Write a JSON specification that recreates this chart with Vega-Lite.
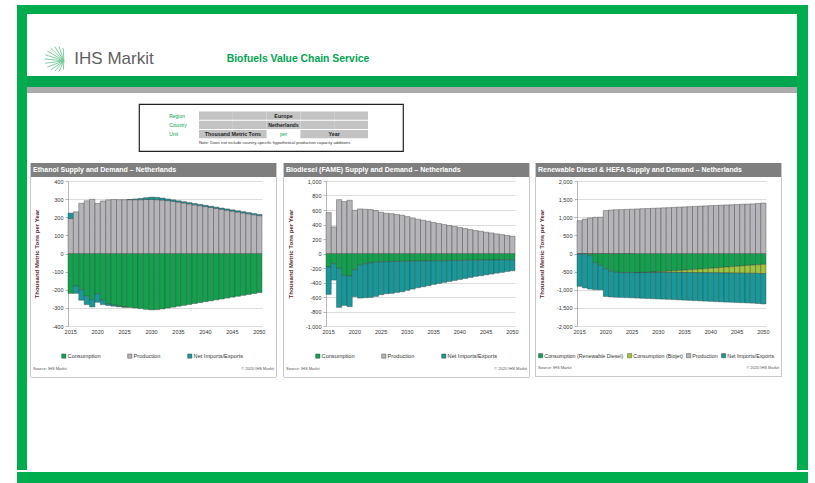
{
"$schema": "https://vega.github.io/schema/vega-lite/v6.json",
"padding": {"left": 17, "top": 5, "right": 0, "bottom": 0},
"background": "white",
"resolve": {"scale": {"color": "independent"}, "legend": {"color": "independent"}},
"config": {
  "font": "Liberation Sans",
  "view": {"stroke": null},
  "concat": {"spacing": 0},
  "point": {"size": 0},
  "axisX": {"domain": false, "ticks": false, "grid": false, "labelAngle": 0, "labelFontSize": 5.5, "labelColor": "#333333", "labelPadding": 3},
  "axisY": {"grid": true, "gridColor": "#c6c6c6", "gridWidth": 0.6, "domainColor": "#8c8c8c", "domainWidth": 0.6, "tickColor": "#8c8c8c", "tickSize": 3, "tickWidth": 0.6, "labelFontSize": 5.5, "labelColor": "#333333", "labelPadding": 2, "titleFontSize": 6, "titleFontWeight": "bold", "titleColor": "#5c1f1f", "titlePadding": 12},
  "legend": {"orient": "none", "legendY": 172, "direction": "horizontal", "symbolType": "square", "symbolSize": 18, "symbolStrokeColor": "#333333", "symbolStrokeWidth": 0.4, "labelFontSize": 5.6, "labelColor": "#333333", "labelOffset": 1, "columnPadding": 25}
},
"vconcat": [
  {"width": 791, "height": 9, "view": {"fill": "#00ad4e"}, "data": {"values": [{}]}, "mark": {"type": "point", "opacity": 0}},
  {"resolve": {"scale": {"color": "independent"}, "legend": {"color": "independent"}},
   "hconcat": [
    {"width": 10, "height": 456, "view": {"fill": "#00ad4e"}, "data": {"values": [{}]}, "mark": {"type": "point", "opacity": 0}},
    {"resolve": {"scale": {"color": "independent"}, "legend": {"color": "independent"}},
     "vconcat": [
      {"width": 770, "height": 30, "data": {"values": [{}]}, "mark": {"type": "point", "opacity": 0}},
      {"hconcat": [
        {"width": 13, "height": 26, "data": {"values": [{}]}, "mark": {"type": "point", "opacity": 0}},
        {"width": 34, "height": 26, "data": {"values": [{}]}, "mark": {"type": "point", "filled": false, "stroke": "#34b36f", "strokeWidth": 0.9, "size": 625, "shape": "M0.55,0.15L0.5,-0.87M0.55,0.15L0.17,-0.98M0.55,0.15L-0.17,-0.98M0.55,0.15L-0.5,-0.87M0.55,0.15L-0.77,-0.64M0.55,0.15L-0.94,-0.34M0.55,0.15L-1,0M0.55,0.15L-0.94,0.34M0.55,0.15L-0.77,0.64M0.55,0.15L-0.5,0.87M0.55,0.15L-0.17,0.98M0.55,0.15L0.17,0.98M0.55,0.15L0.5,0.87"}},
        {"width": 80, "height": 26, "data": {"values": [{"t": "IHS Markit"}]}, "mark": {"type": "text", "fontSize": 17, "color": "#5f6062"}, "encoding": {"text": {"field": "t"}}},
        {"width": 64, "height": 26, "data": {"values": [{}]}, "mark": {"type": "point", "opacity": 0}},
        {"width": 160, "height": 26, "data": {"values": [{"t": "Biofuels Value Chain Service"}]}, "mark": {"type": "text", "fontSize": 10.4, "fontWeight": "bold", "color": "#00a54f"}, "encoding": {"text": {"field": "t"}}}
      ]},
      {"width": 770, "height": 2, "data": {"values": [{}]}, "mark": {"type": "point", "opacity": 0}},
      {"width": 770, "height": 11, "view": {"fill": "#00a54f"}, "data": {"values": [{}]}, "mark": {"type": "point", "opacity": 0}},
      {"width": 770, "height": 6, "view": {"fill": "#ababab"}, "data": {"values": [{}]}, "mark": {"type": "point", "opacity": 0}},
      {"width": 770, "height": 10, "data": {"values": [{}]}, "mark": {"type": "point", "opacity": 0}},
      {"hconcat": [
        {"width": 111, "height": 47, "data": {"values": [{}]}, "mark": {"type": "point", "opacity": 0}},
        {"width": 264, "height": 47, "view": {"stroke": "#222222", "strokeWidth": 1.2},
         "layer": [
          {"data": {"values": [
            {"row": "Region", "col": "A1"}, {"row": "Region", "col": "A2"}, {"row": "Region", "col": "B"}, {"row": "Region", "col": "C1"}, {"row": "Region", "col": "C2"},
            {"row": "Country", "col": "A1"}, {"row": "Country", "col": "A2"}, {"row": "Country", "col": "B"}, {"row": "Country", "col": "C1"}, {"row": "Country", "col": "C2"},
            {"row": "Unit", "col": "A1"}, {"row": "Unit", "col": "A2"}, {"row": "Unit", "col": "C1"}, {"row": "Unit", "col": "C2"}]},
           "mark": {"type": "rect", "color": "#c3c3c3"},
           "encoding": {
             "x": {"field": "col", "type": "nominal", "scale": {"domain": ["L", "A1", "A2", "B", "C1", "C2"], "paddingInner": 0, "paddingOuter": 0.905, "align": 0.428}, "axis": null},
             "y": {"field": "row", "type": "nominal", "scale": {"domain": ["Region", "Country", "Unit", "Note"], "paddingInner": 0.1, "paddingOuter": 0.6, "align": 0.68}, "axis": null}}},
          {"data": {"values": [{"row": "Region", "col": "L", "t": "Region"}, {"row": "Country", "col": "L", "t": "Country"}, {"row": "Unit", "col": "L", "t": "Unit"}]},
           "mark": {"type": "text", "align": "left", "dx": 4, "fontSize": 5, "color": "#00a54f"},
           "encoding": {"x": {"field": "col", "type": "nominal", "bandPosition": 0}, "y": {"field": "row", "type": "nominal"}, "text": {"field": "t"}}},
          {"data": {"values": [{"row": "Region", "col": "B", "t": "Europe"}, {"row": "Country", "col": "B", "t": "Netherlands"}]},
           "mark": {"type": "text", "fontSize": 5.3, "fontWeight": "bold", "color": "#222222"},
           "encoding": {"x": {"field": "col", "type": "nominal"}, "y": {"field": "row", "type": "nominal"}, "text": {"field": "t"}}},
          {"data": {"values": [{"row": "Unit", "col": "B", "t": "per"}]},
           "mark": {"type": "text", "fontSize": 5, "color": "#00a54f"},
           "encoding": {"x": {"field": "col", "type": "nominal"}, "y": {"field": "row", "type": "nominal"}, "text": {"field": "t"}}},
          {"data": {"values": [{"row": "Unit", "col": "A2", "t": "Thousand Metric Tons"}, {"row": "Unit", "col": "C2", "t": "Year"}]},
           "mark": {"type": "text", "fontSize": 5.3, "fontWeight": "bold", "color": "#222222"},
           "encoding": {"x": {"field": "col", "type": "nominal", "bandPosition": 0}, "y": {"field": "row", "type": "nominal"}, "text": {"field": "t"}}},
          {"data": {"values": [{"row": "Note", "col": "A1", "t": "Note: Does not include country-specific hypothetical production capacity additions"}]},
           "mark": {"type": "text", "align": "left", "fontSize": 4.2, "color": "#333333"},
           "encoding": {"x": {"field": "col", "type": "nominal", "bandPosition": 0}, "y": {"field": "row", "type": "nominal"}, "text": {"field": "t"}}}
         ]}
      ]},
      {"width": 770, "height": 11, "data": {"values": [{}]}, "mark": {"type": "point", "opacity": 0}},
      {"resolve": {"scale": {"color": "independent"}, "legend": {"color": "independent"}},
       "hconcat": [
        {"width": 3, "height": 10, "data": {"values": [{}]}, "mark": {"type": "point", "opacity": 0}},
        {"resolve": {"scale": {"color": "independent"}, "legend": {"color": "independent"}},
         "hconcat": [
          {"width": 1, "height": 214, "view": {"fill": "#c9c9c9"}, "data": {"values": [{}]}, "mark": {"type": "point", "opacity": 0}},
          {"resolve": {"scale": {"color": "independent"}, "legend": {"color": "independent"}},
           "vconcat": [
            {"width": 245, "height": 14, "view": {"fill": "#7f7f7f"}, "data": {"values": [{"t": "Ethanol Supply and Demand – Netherlands"}]},
             "mark": {"type": "text", "align": "left", "dx": 2, "color": "white", "fontWeight": "bold", "fontSize": 7},
             "encoding": {"text": {"field": "t"}, "x": {"datum": 0, "type": "quantitative", "scale": {"domain": [0, 1]}, "axis": null}}},
            {"width": 245, "height": 2, "data": {"values": [{}]}, "mark": {"type": "point", "opacity": 0}},
            {"resolve": {"scale": {"color": "independent"}, "legend": {"color": "independent"}},
             "hconcat": [
              {"width": 2, "height": 10, "data": {"values": [{}]}, "mark": {"type": "point", "opacity": 0}},
              {"width": 194, "height": 145,
               "data": {"values": [
                {"year": 2015, "Consumption": -220, "Production": 193, "Net Imports/Exports": 30},
                {"year": 2016, "Consumption": -180, "Production": 230, "Net Imports/Exports": -40},
                {"year": 2017, "Consumption": -200, "Production": 277, "Net Imports/Exports": -58},
                {"year": 2018, "Consumption": -236, "Production": 291, "Net Imports/Exports": -46},
                {"year": 2019, "Consumption": -255, "Production": 299, "Net Imports/Exports": -40},
                {"year": 2020, "Consumption": -222, "Production": 276, "Net Imports/Exports": -47},
                {"year": 2021, "Consumption": -258, "Production": 290, "Net Imports/Exports": -24},
                {"year": 2022, "Consumption": -278, "Production": 296, "Net Imports/Exports": -9},
                {"year": 2023, "Consumption": -285, "Production": 298, "Net Imports/Exports": -6},
                {"year": 2024, "Consumption": -291, "Production": 297, "Net Imports/Exports": -3},
                {"year": 2025, "Consumption": -295, "Production": 297, "Net Imports/Exports": -1},
                {"year": 2026, "Consumption": -298, "Production": 297, "Net Imports/Exports": 1},
                {"year": 2027, "Consumption": -301, "Production": 297, "Net Imports/Exports": 4},
                {"year": 2028, "Consumption": -304, "Production": 297, "Net Imports/Exports": 7},
                {"year": 2029, "Consumption": -308, "Production": 298, "Net Imports/Exports": 10},
                {"year": 2030, "Consumption": -311, "Production": 298, "Net Imports/Exports": 13},
                {"year": 2031, "Consumption": -310, "Production": 297, "Net Imports/Exports": 13},
                {"year": 2032, "Consumption": -306, "Production": 295, "Net Imports/Exports": 11},
                {"year": 2033, "Consumption": -301, "Production": 292, "Net Imports/Exports": 9},
                {"year": 2034, "Consumption": -296, "Production": 288, "Net Imports/Exports": 8},
                {"year": 2035, "Consumption": -291, "Production": 284, "Net Imports/Exports": 7},
                {"year": 2036, "Consumption": -286, "Production": 279, "Net Imports/Exports": 7},
                {"year": 2037, "Consumption": -281, "Production": 274, "Net Imports/Exports": 7},
                {"year": 2038, "Consumption": -276, "Production": 269, "Net Imports/Exports": 7},
                {"year": 2039, "Consumption": -271, "Production": 264, "Net Imports/Exports": 7},
                {"year": 2040, "Consumption": -266, "Production": 259, "Net Imports/Exports": 7},
                {"year": 2041, "Consumption": -261, "Production": 254, "Net Imports/Exports": 7},
                {"year": 2042, "Consumption": -256, "Production": 249, "Net Imports/Exports": 7},
                {"year": 2043, "Consumption": -251, "Production": 244, "Net Imports/Exports": 7},
                {"year": 2044, "Consumption": -246, "Production": 239, "Net Imports/Exports": 7},
                {"year": 2045, "Consumption": -241, "Production": 234, "Net Imports/Exports": 7},
                {"year": 2046, "Consumption": -236, "Production": 229, "Net Imports/Exports": 7},
                {"year": 2047, "Consumption": -231, "Production": 224, "Net Imports/Exports": 7},
                {"year": 2048, "Consumption": -226, "Production": 219, "Net Imports/Exports": 7},
                {"year": 2049, "Consumption": -221, "Production": 214, "Net Imports/Exports": 7},
                {"year": 2050, "Consumption": -216, "Production": 209, "Net Imports/Exports": 7}
               ]},
               "transform": [
                 {"fold": ["Consumption", "Production", "Net Imports/Exports"], "as": ["series", "value"]},
                 {"calculate": "indexof(['Consumption','Production','Net Imports/Exports'], datum.series)", "as": "ord"}
               ],
               "mark": {"type": "bar", "stroke": "#3d3d3d", "strokeWidth": 0.4},
               "encoding": {
                 "x": {"field": "year", "type": "ordinal", "scale": {"paddingInner": 0, "paddingOuter": 0}, "axis": {"values": [2015, 2020, 2025, 2030, 2035, 2040, 2045, 2050], "title": null}},
                 "y": {"field": "value", "type": "quantitative", "stack": "zero", "scale": {"domain": [-400, 400], "nice": false}, "axis": {"values": [-400, -300, -200, -100, 0, 100, 200, 300, 400], "labelExpr": "replace(datum.label, '−', '-')", "title": "Thousand Metric Tons per Year"}},
                 "color": {"field": "series", "type": "nominal", "scale": {"domain": ["Consumption", "Production", "Net Imports/Exports"], "range": ["#12a24e", "#b5b5b9", "#17999b"]}, "legend": {"title": null, "legendX": -7}},
                 "order": {"field": "ord", "type": "quantitative"}
               }}
            ]},
            {"width": 245, "height": 17,
             "layer": [
              {"data": {"values": [{"t": "Source: IHS Markit"}]}, "mark": {"type": "text", "align": "left", "dx": 2, "fontSize": 4, "color": "#555555"},
               "encoding": {"text": {"field": "t"}, "x": {"datum": 0, "type": "quantitative", "scale": {"domain": [0, 1]}, "axis": null}}},
              {"data": {"values": [{"t": "© 2020 IHS Markit"}]}, "mark": {"type": "text", "align": "right", "dx": -2, "fontSize": 4, "color": "#555555"},
               "encoding": {"text": {"field": "t"}, "x": {"datum": 1, "type": "quantitative"}}}
             ]},
            {"width": 245, "height": 1, "view": {"fill": "#c9c9c9"}, "data": {"values": [{}]}, "mark": {"type": "point", "opacity": 0}}
          ]},
          {"width": 1, "height": 214, "view": {"fill": "#c9c9c9"}, "data": {"values": [{}]}, "mark": {"type": "point", "opacity": 0}}
        ]},
        {"width": 6, "height": 10, "data": {"values": [{}]}, "mark": {"type": "point", "opacity": 0}},
        {"resolve": {"scale": {"color": "independent"}, "legend": {"color": "independent"}},
         "hconcat": [
          {"width": 1, "height": 214, "view": {"fill": "#c9c9c9"}, "data": {"values": [{}]}, "mark": {"type": "point", "opacity": 0}},
          {"resolve": {"scale": {"color": "independent"}, "legend": {"color": "independent"}},
           "vconcat": [
            {"width": 245, "height": 14, "view": {"fill": "#7f7f7f"}, "data": {"values": [{"t": "Biodiesel (FAME) Supply and Demand – Netherlands"}]},
             "mark": {"type": "text", "align": "left", "dx": 2, "color": "white", "fontWeight": "bold", "fontSize": 7},
             "encoding": {"text": {"field": "t"}, "x": {"datum": 0, "type": "quantitative", "scale": {"domain": [0, 1]}, "axis": null}}},
            {"width": 245, "height": 2, "data": {"values": [{}]}, "mark": {"type": "point", "opacity": 0}},
            {"resolve": {"scale": {"color": "independent"}, "legend": {"color": "independent"}},
             "hconcat": [
              {"width": 3, "height": 10, "data": {"values": [{}]}, "mark": {"type": "point", "opacity": 0}},
              {"width": 189, "height": 145,
               "data": {"values": [
                {"year": 2015, "Consumption": -186, "Production": 564, "Net Imports/Exports": -378},
                {"year": 2016, "Consumption": -140, "Production": 367, "Net Imports/Exports": -227},
                {"year": 2017, "Consumption": -205, "Production": 743, "Net Imports/Exports": -538},
                {"year": 2018, "Consumption": -302, "Production": 716, "Net Imports/Exports": -414},
                {"year": 2019, "Consumption": -312, "Production": 734, "Net Imports/Exports": -422},
                {"year": 2020, "Consumption": -223, "Production": 596, "Net Imports/Exports": -373},
                {"year": 2021, "Consumption": -163, "Production": 615, "Net Imports/Exports": -452},
                {"year": 2022, "Consumption": -140, "Production": 610, "Net Imports/Exports": -470},
                {"year": 2023, "Consumption": -130, "Production": 606, "Net Imports/Exports": -476},
                {"year": 2024, "Consumption": -122, "Production": 592, "Net Imports/Exports": -470},
                {"year": 2025, "Consumption": -115, "Production": 569, "Net Imports/Exports": -454},
                {"year": 2026, "Consumption": -113, "Production": 555, "Net Imports/Exports": -442},
                {"year": 2027, "Consumption": -111, "Production": 550, "Net Imports/Exports": -439},
                {"year": 2028, "Consumption": -110, "Production": 537, "Net Imports/Exports": -427},
                {"year": 2029, "Consumption": -108, "Production": 528, "Net Imports/Exports": -420},
                {"year": 2030, "Consumption": -107, "Production": 509, "Net Imports/Exports": -402},
                {"year": 2031, "Consumption": -106, "Production": 491, "Net Imports/Exports": -385},
                {"year": 2032, "Consumption": -104, "Production": 472, "Net Imports/Exports": -368},
                {"year": 2033, "Consumption": -103, "Production": 459, "Net Imports/Exports": -356},
                {"year": 2034, "Consumption": -102, "Production": 445, "Net Imports/Exports": -343},
                {"year": 2035, "Consumption": -101, "Production": 427, "Net Imports/Exports": -326},
                {"year": 2036, "Consumption": -100, "Production": 413, "Net Imports/Exports": -313},
                {"year": 2037, "Consumption": -99, "Production": 399, "Net Imports/Exports": -300},
                {"year": 2038, "Consumption": -98, "Production": 385, "Net Imports/Exports": -287},
                {"year": 2039, "Consumption": -97, "Production": 372, "Net Imports/Exports": -275},
                {"year": 2040, "Consumption": -96, "Production": 358, "Net Imports/Exports": -262},
                {"year": 2041, "Consumption": -95, "Production": 344, "Net Imports/Exports": -249},
                {"year": 2042, "Consumption": -94, "Production": 330, "Net Imports/Exports": -236},
                {"year": 2043, "Consumption": -93, "Production": 316, "Net Imports/Exports": -223},
                {"year": 2044, "Consumption": -92, "Production": 307, "Net Imports/Exports": -215},
                {"year": 2045, "Consumption": -91, "Production": 294, "Net Imports/Exports": -203},
                {"year": 2046, "Consumption": -90, "Production": 284, "Net Imports/Exports": -194},
                {"year": 2047, "Consumption": -89, "Production": 271, "Net Imports/Exports": -182},
                {"year": 2048, "Consumption": -88, "Production": 261, "Net Imports/Exports": -173},
                {"year": 2049, "Consumption": -87, "Production": 248, "Net Imports/Exports": -161},
                {"year": 2050, "Consumption": -86, "Production": 239, "Net Imports/Exports": -153}
               ]},
               "transform": [
                 {"fold": ["Consumption", "Production", "Net Imports/Exports"], "as": ["series", "value"]},
                 {"calculate": "indexof(['Consumption','Production','Net Imports/Exports'], datum.series)", "as": "ord"}
               ],
               "mark": {"type": "bar", "stroke": "#3d3d3d", "strokeWidth": 0.4},
               "encoding": {
                 "x": {"field": "year", "type": "ordinal", "scale": {"paddingInner": 0, "paddingOuter": 0}, "axis": {"values": [2015, 2020, 2025, 2030, 2035, 2040, 2045, 2050], "title": null}},
                 "y": {"field": "value", "type": "quantitative", "stack": "zero", "scale": {"domain": [-1000, 1000], "nice": false}, "axis": {"values": [-1000, -800, -600, -400, -200, 0, 200, 400, 600, 800, 1000], "labelExpr": "replace(format(datum.value, ','), '−', '-')", "title": "Thousand Metric Tons per Year"}},
                 "color": {"field": "series", "type": "nominal", "scale": {"domain": ["Consumption", "Production", "Net Imports/Exports"], "range": ["#12a24e", "#b5b5b9", "#17999b"]}, "legend": {"title": null, "legendX": -11}},
                 "order": {"field": "ord", "type": "quantitative"}
               }}
            ]},
            {"width": 245, "height": 17,
             "layer": [
              {"data": {"values": [{"t": "Source: IHS Markit"}]}, "mark": {"type": "text", "align": "left", "dx": 2, "fontSize": 4, "color": "#555555"},
               "encoding": {"text": {"field": "t"}, "x": {"datum": 0, "type": "quantitative", "scale": {"domain": [0, 1]}, "axis": null}}},
              {"data": {"values": [{"t": "© 2020 IHS Markit"}]}, "mark": {"type": "text", "align": "right", "dx": -2, "fontSize": 4, "color": "#555555"},
               "encoding": {"text": {"field": "t"}, "x": {"datum": 1, "type": "quantitative"}}}
             ]},
            {"width": 245, "height": 1, "view": {"fill": "#c9c9c9"}, "data": {"values": [{}]}, "mark": {"type": "point", "opacity": 0}}
          ]},
          {"width": 1, "height": 214, "view": {"fill": "#c9c9c9"}, "data": {"values": [{}]}, "mark": {"type": "point", "opacity": 0}}
        ]},
        {"width": 5, "height": 10, "data": {"values": [{}]}, "mark": {"type": "point", "opacity": 0}},
        {"resolve": {"scale": {"color": "independent"}, "legend": {"color": "independent"}},
         "hconcat": [
          {"width": 1, "height": 214, "view": {"fill": "#c9c9c9"}, "data": {"values": [{}]}, "mark": {"type": "point", "opacity": 0}},
          {"resolve": {"scale": {"color": "independent"}, "legend": {"color": "independent"}},
           "vconcat": [
            {"width": 245, "height": 14, "view": {"fill": "#7f7f7f"}, "data": {"values": [{"t": "Renewable Diesel & HEFA Supply and Demand – Netherlands"}]},
             "mark": {"type": "text", "align": "left", "dx": 2, "color": "white", "fontWeight": "bold", "fontSize": 7},
             "encoding": {"text": {"field": "t"}, "x": {"datum": 0, "type": "quantitative", "scale": {"domain": [0, 1]}, "axis": null}}},
            {"width": 245, "height": 2, "data": {"values": [{}]}, "mark": {"type": "point", "opacity": 0}},
            {"resolve": {"scale": {"color": "independent"}, "legend": {"color": "independent"}},
             "hconcat": [
              {"width": 2, "height": 10, "data": {"values": [{}]}, "mark": {"type": "point", "opacity": 0}},
              {"width": 189, "height": 145,
               "data": {"values": [
                {"year": 2015, "Consumption (Renewable Diesel)": -15, "Consumption (Biojet)": 0, "Production": 905, "Net Imports/Exports": -890},
                {"year": 2016, "Consumption (Renewable Diesel)": -20, "Consumption (Biojet)": 0, "Production": 950, "Net Imports/Exports": -930},
                {"year": 2017, "Consumption (Renewable Diesel)": -60, "Consumption (Biojet)": 0, "Production": 982, "Net Imports/Exports": -922},
                {"year": 2018, "Consumption (Renewable Diesel)": -250, "Consumption (Biojet)": 0, "Production": 1000, "Net Imports/Exports": -750},
                {"year": 2019, "Consumption (Renewable Diesel)": -330, "Consumption (Biojet)": 0, "Production": 1002, "Net Imports/Exports": -672},
                {"year": 2020, "Consumption (Renewable Diesel)": -420, "Consumption (Biojet)": 0, "Production": 1185, "Net Imports/Exports": -765},
                {"year": 2021, "Consumption (Renewable Diesel)": -490, "Consumption (Biojet)": 0, "Production": 1200, "Net Imports/Exports": -710},
                {"year": 2022, "Consumption (Renewable Diesel)": -520, "Consumption (Biojet)": 0, "Production": 1208, "Net Imports/Exports": -688},
                {"year": 2023, "Consumption (Renewable Diesel)": -525, "Consumption (Biojet)": 0, "Production": 1212, "Net Imports/Exports": -687},
                {"year": 2024, "Consumption (Renewable Diesel)": -528, "Consumption (Biojet)": 0, "Production": 1218, "Net Imports/Exports": -690},
                {"year": 2025, "Consumption (Renewable Diesel)": -528, "Consumption (Biojet)": 0, "Production": 1224, "Net Imports/Exports": -696},
                {"year": 2026, "Consumption (Renewable Diesel)": -525, "Consumption (Biojet)": -2, "Production": 1230, "Net Imports/Exports": -703},
                {"year": 2027, "Consumption (Renewable Diesel)": -522, "Consumption (Biojet)": -5, "Production": 1236, "Net Imports/Exports": -709},
                {"year": 2028, "Consumption (Renewable Diesel)": -518, "Consumption (Biojet)": -8, "Production": 1242, "Net Imports/Exports": -716},
                {"year": 2029, "Consumption (Renewable Diesel)": -512, "Consumption (Biojet)": -12, "Production": 1248, "Net Imports/Exports": -724},
                {"year": 2030, "Consumption (Renewable Diesel)": -505, "Consumption (Biojet)": -18, "Production": 1254, "Net Imports/Exports": -731},
                {"year": 2031, "Consumption (Renewable Diesel)": -497, "Consumption (Biojet)": -26, "Production": 1260, "Net Imports/Exports": -737},
                {"year": 2032, "Consumption (Renewable Diesel)": -488, "Consumption (Biojet)": -35, "Production": 1265, "Net Imports/Exports": -742},
                {"year": 2033, "Consumption (Renewable Diesel)": -478, "Consumption (Biojet)": -45, "Production": 1272, "Net Imports/Exports": -749},
                {"year": 2034, "Consumption (Renewable Diesel)": -468, "Consumption (Biojet)": -55, "Production": 1279, "Net Imports/Exports": -756},
                {"year": 2035, "Consumption (Renewable Diesel)": -458, "Consumption (Biojet)": -66, "Production": 1286, "Net Imports/Exports": -762},
                {"year": 2036, "Consumption (Renewable Diesel)": -448, "Consumption (Biojet)": -78, "Production": 1293, "Net Imports/Exports": -767},
                {"year": 2037, "Consumption (Renewable Diesel)": -438, "Consumption (Biojet)": -90, "Production": 1300, "Net Imports/Exports": -772},
                {"year": 2038, "Consumption (Renewable Diesel)": -428, "Consumption (Biojet)": -101, "Production": 1307, "Net Imports/Exports": -778},
                {"year": 2039, "Consumption (Renewable Diesel)": -418, "Consumption (Biojet)": -112, "Production": 1314, "Net Imports/Exports": -784},
                {"year": 2040, "Consumption (Renewable Diesel)": -408, "Consumption (Biojet)": -124, "Production": 1321, "Net Imports/Exports": -789},
                {"year": 2041, "Consumption (Renewable Diesel)": -397, "Consumption (Biojet)": -136, "Production": 1328, "Net Imports/Exports": -795},
                {"year": 2042, "Consumption (Renewable Diesel)": -386, "Consumption (Biojet)": -149, "Production": 1334, "Net Imports/Exports": -799},
                {"year": 2043, "Consumption (Renewable Diesel)": -375, "Consumption (Biojet)": -162, "Production": 1340, "Net Imports/Exports": -803},
                {"year": 2044, "Consumption (Renewable Diesel)": -364, "Consumption (Biojet)": -175, "Production": 1346, "Net Imports/Exports": -807},
                {"year": 2045, "Consumption (Renewable Diesel)": -353, "Consumption (Biojet)": -188, "Production": 1352, "Net Imports/Exports": -811},
                {"year": 2046, "Consumption (Renewable Diesel)": -342, "Consumption (Biojet)": -201, "Production": 1358, "Net Imports/Exports": -815},
                {"year": 2047, "Consumption (Renewable Diesel)": -331, "Consumption (Biojet)": -214, "Production": 1364, "Net Imports/Exports": -819},
                {"year": 2048, "Consumption (Renewable Diesel)": -320, "Consumption (Biojet)": -227, "Production": 1370, "Net Imports/Exports": -823},
                {"year": 2049, "Consumption (Renewable Diesel)": -310, "Consumption (Biojet)": -240, "Production": 1380, "Net Imports/Exports": -830},
                {"year": 2050, "Consumption (Renewable Diesel)": -300, "Consumption (Biojet)": -255, "Production": 1392, "Net Imports/Exports": -837}
               ]},
               "transform": [
                 {"fold": ["Consumption (Renewable Diesel)", "Consumption (Biojet)", "Production", "Net Imports/Exports"], "as": ["series", "value"]},
                 {"calculate": "indexof(['Consumption (Renewable Diesel)','Consumption (Biojet)','Production','Net Imports/Exports'], datum.series)", "as": "ord"}
               ],
               "mark": {"type": "bar", "stroke": "#3d3d3d", "strokeWidth": 0.4},
               "encoding": {
                 "x": {"field": "year", "type": "ordinal", "scale": {"paddingInner": 0, "paddingOuter": 0}, "axis": {"values": [2015, 2020, 2025, 2030, 2035, 2040, 2045, 2050], "title": null}},
                 "y": {"field": "value", "type": "quantitative", "stack": "zero", "scale": {"domain": [-2000, 2000], "nice": false}, "axis": {"values": [-2000, -1500, -1000, -500, 0, 500, 1000, 1500, 2000], "labelExpr": "replace(format(datum.value, ','), '−', '-')", "title": "Thousand Metric Tons per Year"}},
                 "color": {"field": "series", "type": "nominal", "scale": {"domain": ["Consumption (Renewable Diesel)", "Consumption (Biojet)", "Production", "Net Imports/Exports"], "range": ["#12a24e", "#9cc43c", "#b5b5b9", "#17999b"]}, "legend": {"title": null, "legendX": -39, "columnPadding": 2, "labelFontSize": 5.3}},
                 "order": {"field": "ord", "type": "quantitative"}
               }}
            ]},
            {"width": 245, "height": 17,
             "layer": [
              {"data": {"values": [{"t": "Source: IHS Markit"}]}, "mark": {"type": "text", "align": "left", "dx": 2, "fontSize": 4, "color": "#555555"},
               "encoding": {"text": {"field": "t"}, "x": {"datum": 0, "type": "quantitative", "scale": {"domain": [0, 1]}, "axis": null}}},
              {"data": {"values": [{"t": "© 2020 IHS Markit"}]}, "mark": {"type": "text", "align": "right", "dx": -2, "fontSize": 4, "color": "#555555"},
               "encoding": {"text": {"field": "t"}, "x": {"datum": 1, "type": "quantitative"}}}
             ]},
            {"width": 245, "height": 1, "view": {"fill": "#c9c9c9"}, "data": {"values": [{}]}, "mark": {"type": "point", "opacity": 0}}
          ]},
          {"width": 1, "height": 214, "view": {"fill": "#c9c9c9"}, "data": {"values": [{}]}, "mark": {"type": "point", "opacity": 0}}
        ]}
      ]},
      {"width": 770, "height": 94, "data": {"values": [{}]}, "mark": {"type": "point", "opacity": 0}}
    ]},
    {"width": 11, "height": 456, "view": {"fill": "#00ad4e"}, "data": {"values": [{}]}, "mark": {"type": "point", "opacity": 0}}
  ]},
  {"width": 791, "height": 11, "view": {"fill": "#00ad4e"}, "data": {"values": [{}]}, "mark": {"type": "point", "opacity": 0}}
]
}
